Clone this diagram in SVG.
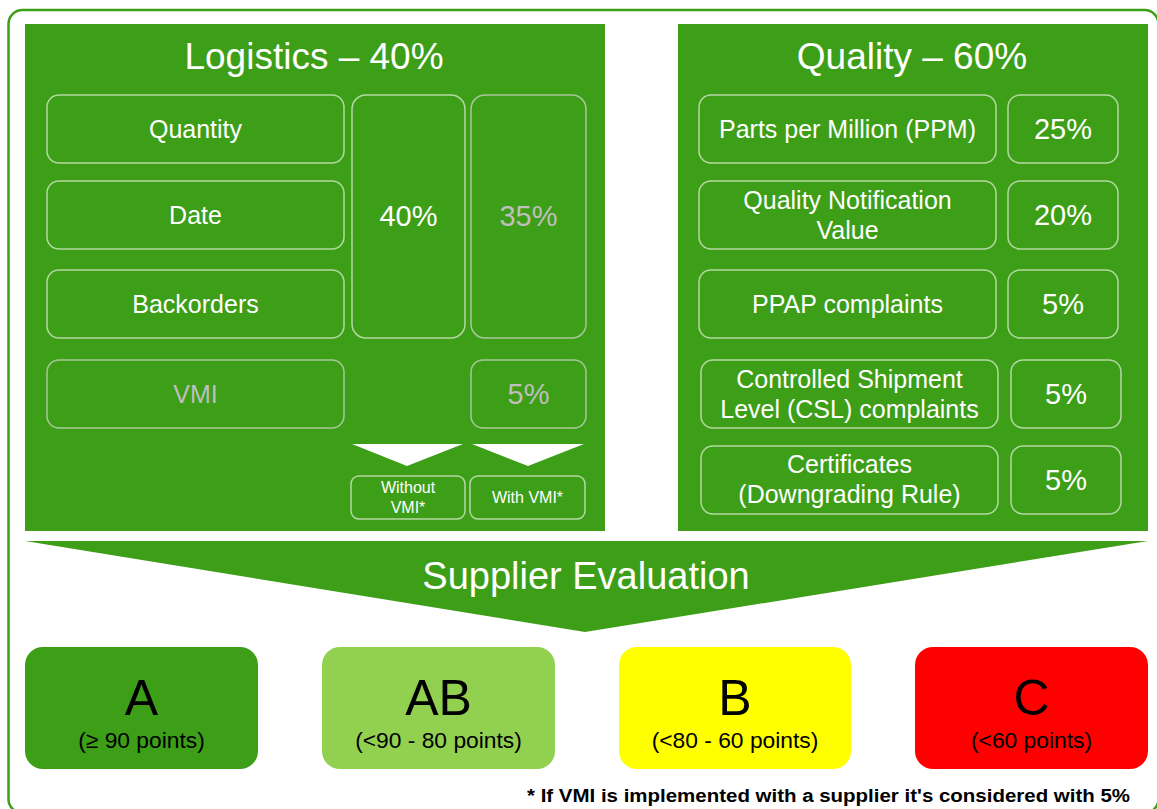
<svg xmlns="http://www.w3.org/2000/svg" width="1157" height="809" viewBox="0 0 1157 809">
<style>
text{font-family:"Liberation Sans",Arial,sans-serif;text-anchor:middle}
.panel{fill:#3d9e17}
.box{fill:none;stroke:#b5d9a4;stroke-width:1.5}
.gbox{fill:none;stroke:#a9c79c;stroke-width:1.5}
.title{fill:#fff;font-size:37px}
.lbl{fill:#fff;font-size:25px}
.glbl{fill:#bfbfbf;font-size:25px}
.pct{fill:#fff;font-size:29px}
.gpct{fill:#bfbfbf;font-size:29px}
.small{fill:#fff;font-size:16px}
.grade{fill:#000;font-size:50px}
.range{fill:#000;font-size:22.8px}
</style>
<rect x="8.5" y="10" width="1150" height="803" rx="14" fill="#fff" stroke="#3d9e17" stroke-width="2.5"/>

<g id="logistics">
<rect class="panel" x="25" y="24" width="580" height="507"/>
<text class="title" x="314" y="69">Logistics – 40%</text>
</g>
<g id="quantity"><rect class="box" x="47" y="95" width="297" height="68" rx="12"/><text class="lbl" x="195.5" y="137.5">Quantity</text></g>
<g id="date"><rect class="box" x="47" y="181" width="297" height="68" rx="12"/><text class="lbl" x="195.5" y="223.5">Date</text></g>
<g id="backorders"><rect class="box" x="47" y="270" width="297" height="68" rx="12"/><text class="lbl" x="195.5" y="312.5">Backorders</text></g>
<g id="vmi"><rect class="gbox" x="47" y="360" width="297" height="68" rx="12"/><text class="glbl" x="195.5" y="402.5">VMI</text></g>
<g id="pct40"><rect class="box" x="352" y="95" width="113" height="243" rx="14"/><text class="pct" x="408.5" y="226">40%</text></g>
<g id="pct35"><rect class="gbox" x="471" y="95" width="115" height="243" rx="14"/><text class="gpct" x="528.5" y="226">35%</text></g>
<g id="pct5vmi"><rect class="gbox" x="471" y="360" width="115" height="68" rx="12"/><text class="gpct" x="528.5" y="404">5%</text></g>
<g id="without-vmi"><polygon points="352,444 463,444 407,466" fill="#fff"/><rect class="box" x="351" y="476" width="114" height="43" rx="8"/><text class="small" x="408" y="493">Without</text><text class="small" x="408" y="513">VMI*</text></g>
<g id="with-vmi"><polygon points="472,444 584,444 528,466" fill="#fff"/><rect class="box" x="470" y="476" width="115" height="43" rx="8"/><text class="small" x="527.5" y="503">With VMI*</text></g>

<g id="quality">
<rect class="panel" x="678" y="24" width="470" height="507"/>
<text class="title" x="912" y="69">Quality – 60%</text>
</g>
<g id="ppm"><rect class="box" x="699" y="95" width="297" height="68" rx="12"/><text class="lbl" x="847.5" y="137.5">Parts per Million (PPM)</text></g>
<g id="ppm-pct"><rect class="box" x="1008" y="95" width="110" height="68" rx="12"/><text class="pct" x="1063" y="139">25%</text></g>
<g id="qnv"><rect class="box" x="699" y="181" width="297" height="68" rx="12"/><text class="lbl" x="847.5" y="209">Quality Notification</text><text class="lbl" x="847.5" y="239">Value</text></g>
<g id="qnv-pct"><rect class="box" x="1008" y="181" width="110" height="68" rx="12"/><text class="pct" x="1063" y="225">20%</text></g>
<g id="ppap"><rect class="box" x="699" y="270" width="297" height="68" rx="12"/><text class="lbl" x="847.5" y="312.5">PPAP complaints</text></g>
<g id="ppap-pct"><rect class="box" x="1008" y="270" width="110" height="68" rx="12"/><text class="pct" x="1063" y="314">5%</text></g>
<g id="csl"><rect class="box" x="701" y="360" width="297" height="68" rx="12"/><text class="lbl" x="849.5" y="388">Controlled Shipment</text><text class="lbl" x="849.5" y="418">Level (CSL) complaints</text></g>
<g id="csl-pct"><rect class="box" x="1011" y="360" width="110" height="68" rx="12"/><text class="pct" x="1066" y="404">5%</text></g>
<g id="cert"><rect class="box" x="701" y="446" width="297" height="68" rx="12"/><text class="lbl" x="849.5" y="473">Certificates</text><text class="lbl" x="849.5" y="503">(Downgrading Rule)</text></g>
<g id="cert-pct"><rect class="box" x="1011" y="446" width="110" height="68" rx="12"/><text class="pct" x="1066" y="490">5%</text></g>

<g id="supplier-evaluation">
<polygon points="25,541 1148,541 585,632" fill="#3d9e17"/>
<text x="586" y="589" style="fill:#fff;font-size:38px">Supplier Evaluation</text>
</g>

<g id="grade-a"><rect x="25" y="647" width="233" height="122" rx="18" fill="#3d9e17"/><text class="grade" x="141.5" y="715">A</text><text class="range" x="141.5" y="748">(≥ 90 points)</text></g>
<g id="grade-ab"><rect x="322" y="647" width="233" height="122" rx="18" fill="#92d050"/><text class="grade" x="438.5" y="715">AB</text><text class="range" x="438.5" y="748">(&lt;90 - 80 points)</text></g>
<g id="grade-b"><rect x="619" y="647" width="232" height="122" rx="18" fill="#ffff00"/><text class="grade" x="735" y="715">B</text><text class="range" x="735" y="748">(&lt;80 - 60 points)</text></g>
<g id="grade-c"><rect x="915" y="647" width="233" height="122" rx="18" fill="#ff0000"/><text class="grade" x="1031.5" y="715">C</text><text class="range" x="1031.5" y="748">(&lt;60 points)</text></g>

<g id="connectors"></g>

<text x="527" y="802" style="text-anchor:start;font-size:18px;font-weight:bold;fill:#000" textLength="603" lengthAdjust="spacingAndGlyphs">* If VMI is implemented  with a supplier it's considered with 5%</text>
</svg>
